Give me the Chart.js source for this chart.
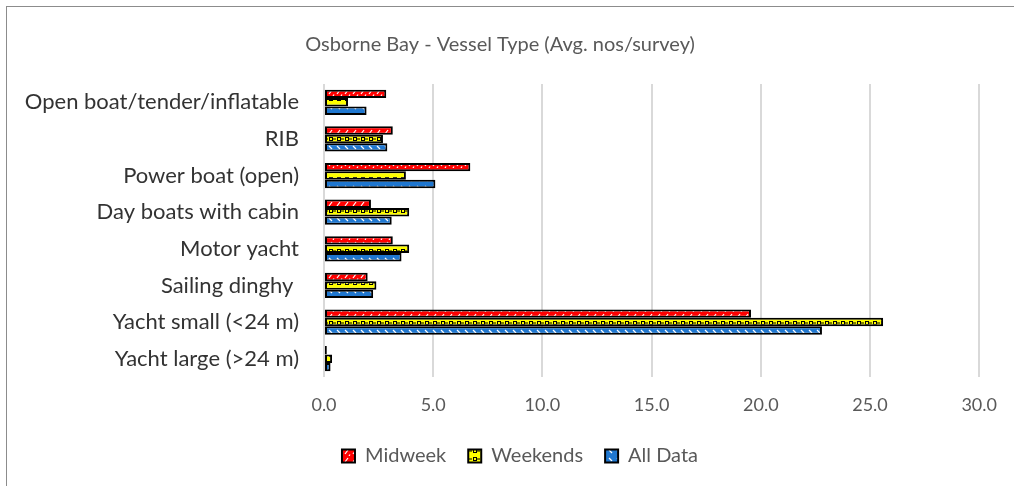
<!DOCTYPE html>
<html>
<head>
<meta charset="utf-8">
<script src="https://cdn.jsdelivr.net/npm/chart.js@4.4.1/dist/chart.umd.min.js"></script>
<style>
  html, body { margin: 0; padding: 0; background: #fff; }
  #wrap { position: absolute; left: 0; top: 0; width: 1014px; height: 486px; }
  #frame { position: absolute; left: 6px; top: 6px; width: 1020px; height: 500px; border: 1px solid #8c8c8c; box-sizing: border-box; pointer-events: none; }
</style>
</head>
<body>
<div id="wrap">
  <canvas id="chart" width="1014" height="486"></canvas>
  <div id="frame"></div>
</div>
<script>
// Vessel categories, top to bottom
const categories = [
  'Open boat/tender/inflatable',
  'RIB',
  'Power boat (open)',
  'Day boats with cabin',
  'Motor yacht',
  'Sailing dinghy ',
  'Yacht small (<24 m)',
  'Yacht large (>24 m)'
];
// Average number of vessels per survey
const midweek  = [2.85, 3.15, 6.7, 2.15, 3.15, 2.0, 19.55, 0.13];
const weekends = [1.1, 2.7, 3.75, 3.9, 3.9, 2.4, 25.6, 0.37];
const allData  = [1.95, 2.9, 5.1, 3.1, 3.55, 2.25, 22.8, 0.3];
const xTicks   = [0, 5, 10, 15, 20, 25, 30];

const FONT = 'Lato, "Open Sans", sans-serif';

// Hatched fills for the three series
function makePattern(kind) {
  const c = document.createElement('canvas');
  c.width = 8; c.height = 8;
  const g = c.getContext('2d');
  if (kind === 'red') {
    g.fillStyle = '#ff0000'; g.fillRect(0, 0, 8, 8);
    g.strokeStyle = '#ffffff'; g.lineWidth = 1.2;
    g.beginPath(); g.moveTo(1, 6); g.lineTo(4, 2); g.stroke();
    g.beginPath(); g.moveTo(5, 8); g.lineTo(6, 6.5); g.stroke();
  } else if (kind === 'yellow') {
    g.fillStyle = '#ffff00'; g.fillRect(0, 0, 8, 8);
    g.strokeStyle = '#000000'; g.lineWidth = 1;
    g.strokeRect(1.5, 1.5, 3, 3);
    g.fillStyle = '#000'; g.fillRect(4.5, 2.5, 3.5, 1);
  } else {
    g.fillStyle = '#1f77d0'; g.fillRect(0, 0, 8, 8);
    g.strokeStyle = '#ffffff'; g.lineWidth = 1.2;
    g.beginPath(); g.moveTo(1, 2); g.lineTo(4, 5); g.stroke();
  }
  return g.createPattern(c, 'repeat');
}

// Horizontal centre lines for the title and the legend row
const boxCentres = {
  id: 'boxCentres',
  afterLayout(chart, args, opts) {
    const shift = (box, cx) => {
      if (!box) return;
      const d = cx - (box.left + box.right) / 2;
      box.left += d; box.right += d;
    };
    shift(chart.titleBlock, opts.title);
    shift(chart.legend, opts.legend);
  }
};

const ctx = document.getElementById('chart').getContext('2d');
const ds = (label, data, kind) => ({
  label, data,
  backgroundColor: makePattern(kind),
  borderColor: '#000000',
  borderWidth: 2,
  borderSkipped: false,
  barPercentage: 1.0,
  categoryPercentage: 0.69
});

new Chart(ctx, {
  type: 'bar',
  plugins: [boxCentres],
  data: {
    labels: categories,
    datasets: [
      ds('Midweek', midweek, 'red'),
      ds('Weekends', weekends, 'yellow'),
      ds('All Data', allData, 'blue')
    ]
  },
  options: {
    indexAxis: 'y',
    responsive: false,
    animation: false,
    layout: { padding: { left: 0, right: 33, top: 0, bottom: 10 } },
    plugins: {
      boxCentres: { title: 500, legend: 520 },
      title: {
        display: true,
        text: 'Osborne Bay - Vessel Type (Avg. nos/survey)',
        color: '#595959',
        font: { family: FONT, size: 20, weight: 'normal' },
        padding: { top: 33, bottom: 27 }
      },
      legend: {
        position: 'bottom',
        labels: {
          color: '#595959',
          font: { family: FONT, size: 20 },
          boxWidth: 13, boxHeight: 13,
          padding: 22
        }
      },
      tooltip: { enabled: false }
    },
    scales: {
      x: {
        min: 0, max: 30,
        afterBuildTicks: s => { s.ticks = xTicks.map(v => ({ value: v })); },
        afterFit: s => { s.height = 47; },
        ticks: {
          color: '#595959',
          font: { family: FONT, size: 18 },
          padding: 17,
          callback: v => Number(v).toFixed(1)
        },
        grid: { color: '#d9d9d9', lineWidth: 2, drawTicks: false },
        border: { display: false }
      },
      y: {
        afterFit: s => { s.width = 324; },
        ticks: {
          color: '#333333',
          font: { family: FONT, size: 22 },
          padding: 25
        },
        grid: { display: false, drawTicks: false },
        border: { display: false }
      }
    }
  }
});
</script>
</body>
</html>
